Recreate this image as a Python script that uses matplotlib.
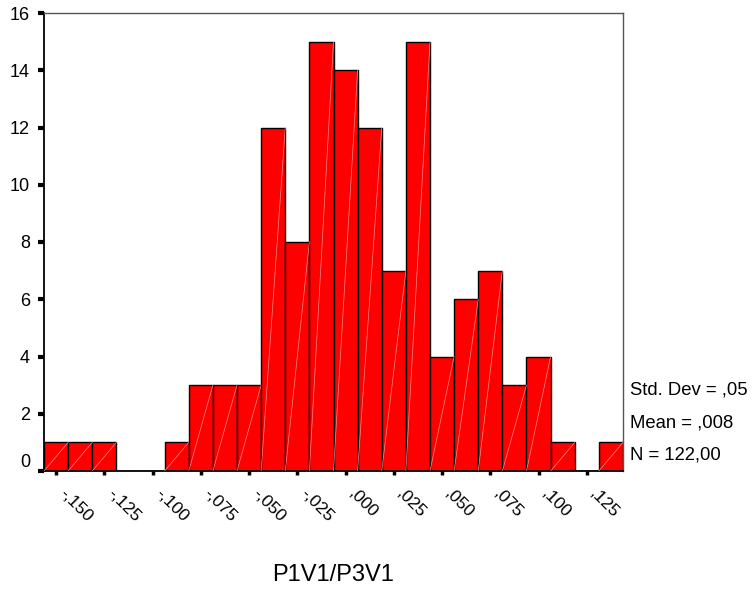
import numpy as np
import matplotlib.pyplot as plt

plt.rcParams['font.family'] = ['Liberation Sans', 'DejaVu Sans']

# histogram of P1V1/P3V1, bins of width ,0125
counts = [1, 1, 1, 0, 0, 1, 3, 3, 3, 12, 8, 15, 14, 12, 7, 15, 4, 6, 7, 3, 4, 1, 0, 1]
first_center = -0.150
bin_width = 0.0125

tick_values = [-0.150, -0.125, -0.100, -0.075, -0.050, -0.025, 0.000,
               0.025, 0.050, 0.075, 0.100, 0.125]
tick_labels = ['-,150', '-,125', '-,100', '-,075', '-,050', '-,025', ',000',
               ',025', ',050', ',075', ',100', ',125']
y_ticks = [0, 2, 4, 6, 8, 10, 12, 14, 16]

stats = ['Std. Dev = ,05', 'Mean = ,008', 'N = 122,00']

centers = first_center + bin_width * np.arange(len(counts))
left_edges = centers - bin_width / 2

fig = plt.figure(figsize=(7.55, 5.92), dpi=100)
ax = fig.add_axes([44 / 755, 1 - 471 / 592, 579 / 755, 458 / 592])

ax.bar(left_edges, counts, width=bin_width, align='edge',
       color='#ff0000', edgecolor='black', linewidth=1.0, zorder=2)
# the thin light diagonal drawn across every filled bar
for x0, c in zip(left_edges, counts):
    if c > 0:
        ax.plot([x0, x0 + bin_width], [0, c], color='#ff8c8c',
                linewidth=0.5, zorder=3)

ax.set_xlim(left_edges[0], left_edges[-1] + bin_width)
ax.set_ylim(0, 16)

ax.set_yticks(y_ticks)
ax.set_yticklabels([str(v) for v in y_ticks], fontsize=13)
ax.tick_params(axis='y', direction='out', length=4, width=3, pad=6)
# the zero label sits just above the axis line
ax.get_yticklabels()[0].set_verticalalignment('bottom')

ax.set_xticks(tick_values)
ax.set_xticklabels(tick_labels, fontsize=12.5, rotation=-45, ha='left', va='top')
ax.tick_params(axis='x', direction='out', length=3, width=2.5, pad=8)

for side in ['left', 'bottom']:
    ax.spines[side].set_linewidth(1.3)
    ax.spines[side].set_color('black')
for side in ['top', 'right']:
    ax.spines[side].set_linewidth(1.0)
    ax.spines[side].set_color('#555555')

for i, s in enumerate(stats):
    fig.text(630 / 755, 1 - (390 + 32.5 * i) / 592, s, fontsize=13.3,
             ha='left', va='center')

fig.text(333 / 755, 1 - 575 / 592, 'P1V1/P3V1', fontsize=17,
         ha='center', va='center')

fig.savefig('out.png', dpi=100)
